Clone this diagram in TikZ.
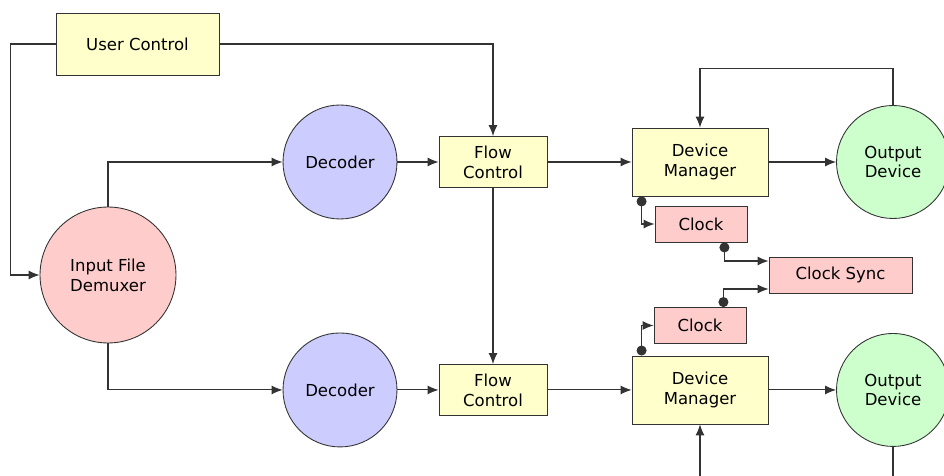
\documentclass[tikz,border=0pt]{standalone}
\usepackage{fontspec}
\setmainfont{DejaVu Sans}
\usetikzlibrary{positioning, arrows.meta}
\definecolor{paleyellow}{HTML}{FFFFCC}
\definecolor{palered}{HTML}{FFCCCC}
\definecolor{paleblue}{HTML}{CCCCFF}
\definecolor{palegreen}{HTML}{CCFFCC}
\tikzset{
    ->, % connectors are directed
    >={Latex[length=0.22cm, width=0.18cm]}, % filled arrow heads
    x=0.02cm, y=-0.02cm, % one unit is one pixel of the sketch
    node distance=4.56cm, % from the upper row to the lower one
    every node/.style={font=\fontsize{9.4}{11.3}\selectfont, align=center},
    block/.style={draw=black!80, line width=0.5pt, fill=#1, inner sep=0pt},
    unit/.style={circle, draw=black!80, line width=0.5pt, fill=#1, minimum size=2.28cm, inner sep=0pt},
    flow/.style={block=paleyellow, minimum width=2.16cm, minimum height=1.02cm},
    manager/.style={block=paleyellow, minimum width=2.72cm, minimum height=1.36cm},
    clockbox/.style={block=palered, minimum width=1.84cm, minimum height=0.72cm},
    wire/.style={draw=black!80, line width=0.6pt},
    tap/.style={wire, {Circle[length=0.2cm]}->}, % dot at the start
}
\begin{document}
\begin{tikzpicture}
    \useasboundingbox (0,0) rectangle (944,476);
    \node[block=paleyellow, minimum width=3.26cm, minimum height=1.24cm] (uc) at (137.5,44) {User Control};
    \node[unit=palered, minimum size=2.72cm] (demux) at (108,275) {Input File\\Demuxer};
    \node[unit=paleblue] (dec1) at (340,162) {Decoder};
    \node[unit=paleblue, below of=dec1] (dec2) {Decoder};
    \node[flow] (fc1) at (493,162) {Flow\\Control};
    \node[flow, below of=fc1] (fc2) {Flow\\Control};
    \node[manager] (dm1) at (700,162) {Device\\Manager};
    \node[manager, below of=dm1] (dm2) {Device\\Manager};
    \node[unit=palegreen, minimum size=2.26cm] (out1) at (893,162) {Output\\Device};
    \node[unit=palegreen, minimum size=2.26cm, below of=out1] (out2) {Output\\Device};
    \node[clockbox] (clk1) at (701,224) {Clock};
    \node[clockbox] (clk2) at (700,325.5) {Clock};
    \node[clockbox, minimum width=2.86cm] (sync) at (840.5,275) {Clock Sync};
    \draw[wire]
    (uc.east) -| (fc1.north);
    \draw[wire] (uc.west) -- ++(-45,0) |- (demux.west);
    \draw[wire] (demux.north) |- (dec1.west);
    \draw[wire] (demux.south) |- (dec2.west);
    \draw[wire] (dec1.east) -- (fc1.west);
    \draw[wire] (dec2.east) -- (fc2.west);
    \draw[wire] (fc1.south) -- (fc2.north);
    \draw[wire] (fc1.east) -- (dm1.west);
    \draw[wire] (fc2.east) -- (dm2.west);
    \draw[wire] (dm1.east) -- (out1.west);
    \draw[wire] (dm2.east) -- (out2.west);
    \draw[wire] (out1.north) -- ++(0,-37) -| (dm1.north);
    \draw[wire] (out2.south) -- ++(0,60) -| (dm2.south);
    % clocks hang off the managers and meet at the sync
    \draw[tap] ([xshift=0.2cm]dm1.south west) |- (clk1.west);
    \draw[tap] ([xshift=0.2cm]dm2.north west) |- (clk2.west);
    \draw[tap] ([xshift=-0.46cm]clk1.south east) |- ([yshift=0.28cm]sync.west);
    \draw[tap] ([xshift=-0.46cm]clk2.north east) |- ([yshift=-0.28cm]sync.west);
\end{tikzpicture}
\end{document}
